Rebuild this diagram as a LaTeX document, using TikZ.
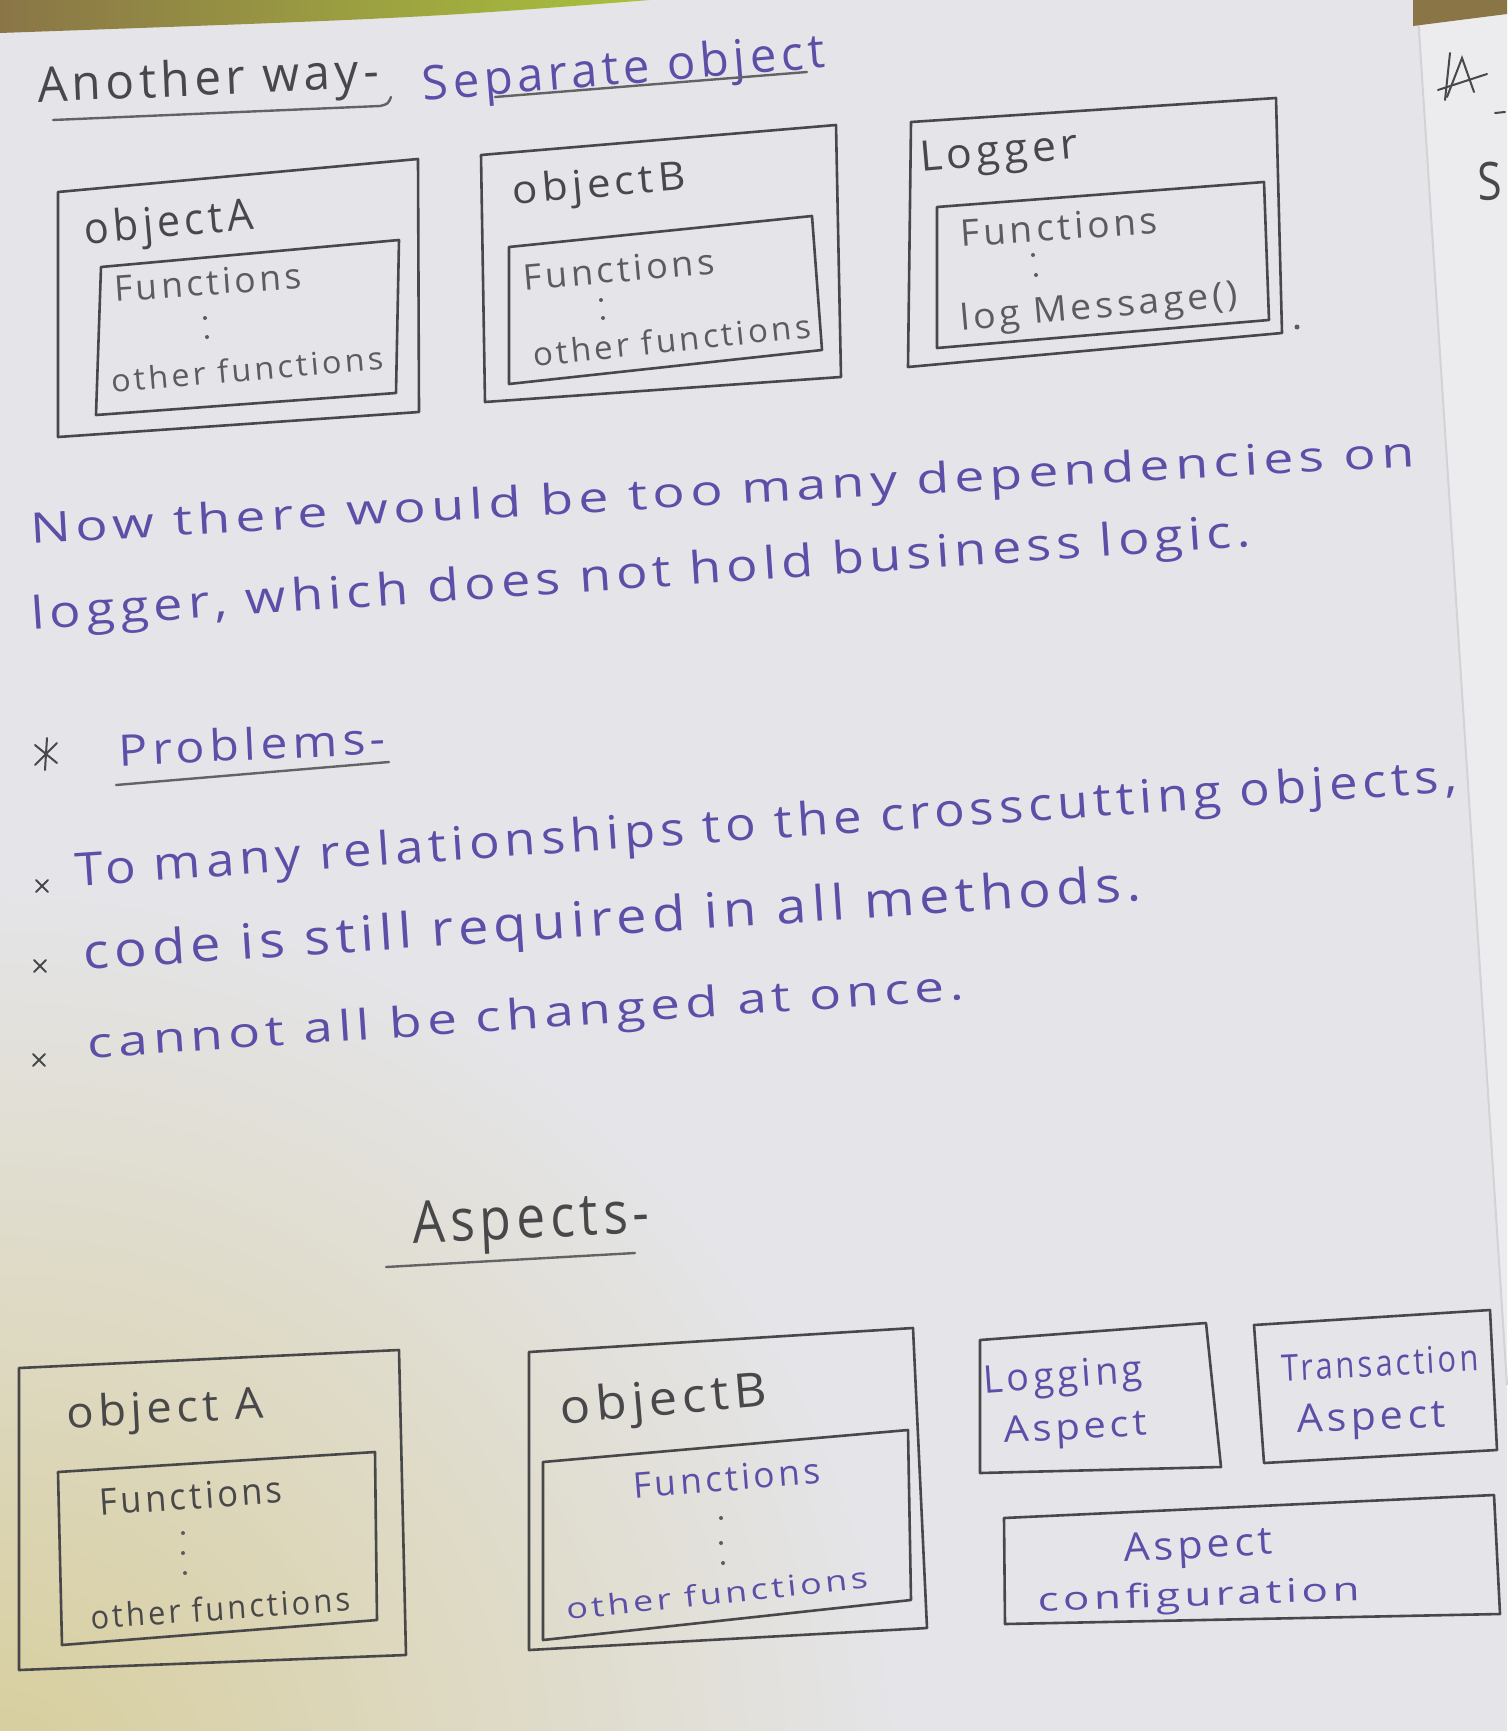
\documentclass[tikz,border=0pt]{standalone}
\usepackage{fontspec}
\usepackage{graphicx}
\newfontfamily\handfont[LetterSpace=10]{Open Sans}
\usetikzlibrary{fadings}

\definecolor{paper}{HTML}{E5E5E9}
\definecolor{paperright}{HTML}{ECECEE}
\definecolor{foldline}{HTML}{D3D3D7}
\definecolor{bandbrown}{HTML}{8A7547}
\definecolor{bandgreen}{HTML}{A9C23C}
\definecolor{pencil}{HTML}{48484A}
\definecolor{pencillight}{HTML}{5C5C60}
\definecolor{ink}{HTML}{5C4FA8}
\definecolor{shadowtint}{HTML}{D6CB92}

% soft radial fade used for the tinted corner
\tikzfading[name=cornerglow, inner color=transparent!0, outer color=transparent!100]

% handwritten line: fixed width and ascender height
\newcommand\hw[3]{\resizebox{#1pt}{#2pt}{\handfont\fontsize{40}{48}\selectfont #3}}

\tikzset{
  box/.style={draw=pencil, line width=2.6pt, line join=round, line cap=round},
  rule/.style={draw=pencil!85, line width=2.4pt, line cap=round, line join=round},
  tick/.style={draw=pencil, line width=2pt, line cap=round},
  lbl/.style={inner sep=0pt, anchor=base, text=pencil},
  lbllight/.style={lbl, text=pencillight},
  inklbl/.style={lbl, text=ink},
  speck/.style={fill=pencillight}
}

\begin{document}
\begin{tikzpicture}[x=1pt,y=-1pt]
\useasboundingbox (0,0) rectangle (1507,1731);

% sheet, facing page and table edge
\fill[paper] (0,0) rectangle (1507,1731);
\fill[paperright] (1417,0) -- (1507,0) -- (1507,1385) -- cycle;
\draw[foldline, line width=2pt] (1417,0) -- (1507,1385);
\begin{scope}
  \clip (0,0) rectangle (1507,1731);
  \fill[shadowtint, path fading=cornerglow, opacity=0.9] (0,1790) circle (900);
\end{scope}
\shade[left color=bandbrown, middle color=bandbrown!60!bandgreen, right color=bandgreen]
  (0,0) -- (650,0) .. controls (420,18) .. (0,33) -- cycle;
\fill[bandbrown] (1413,0) -- (1507,0) -- (1507,14) -- (1413,26) -- cycle;

% heading
\node[lbl, rotate=2.5] (another) at (209,95) {\hw{342}{37}{Another way-}};
\node[inklbl, rotate=4.7] (separate) at (625,84) {\hw{404}{36}{Separate object}};
\draw[rule] (53,120) -- (380,106) .. controls (388,104) .. (391,97);
\draw[rule] (495,97) -- (807,72);

% first row: object A, object B, logger
\draw[box] (58,192) -- (418,159) -- (419,412) -- (58,437) -- cycle;
\draw[box] (101,267) -- (399,240) -- (396,393) -- (96,415) -- cycle;
\node[lbl, rotate=5] (topA) at (170,237) {\hw{169}{33}{objectA}};
\node[lbllight, rotate=4] (topAf) at (209,295) {\hw{188}{26}{Functions}};
\fill[speck] (205,318) circle (2) (207,337) circle (2);
\node[lbllight, rotate=5] (topAo) at (248,381) {\hw{273}{24}{other functions}};

\draw[box] (481,155) -- (836,125) -- (841,377) -- (485,402) -- cycle;
\draw[box] (509,247) -- (812,216) -- (822,350) -- (509,384) -- cycle;
\node[lbl, rotate=5] (topB) at (600,197) {\hw{173}{30}{objectB}};
\node[lbllight, rotate=5] (topBf) at (620,282) {\hw{192}{26}{Functions}};
\fill[speck] (601,300) circle (2) (603,318) circle (2);
\node[lbllight, rotate=6] (topBo) at (673,352) {\hw{279}{25}{other functions}};

\draw[box] (911,122) -- (1276,98) -- (1282,333) -- (908,367) -- cycle;
\draw[box] (937,207) -- (1264,182) -- (1269,320) -- (937,348) -- cycle;
\node[lbl, rotate=5] (logger) at (1000,165) {\hw{158}{30}{Logger}};
\node[lbllight, rotate=4] (loggerf) at (1060,240) {\hw{197}{27}{Functions}};
\fill[speck] (1033,255) circle (2) (1036,275) circle (2);
\node[lbllight, rotate=5] (loggerm) at (1100,318) {\hw{279}{27}{log Message()}};
\fill[speck] (1297,327) circle (2.5);

% margin notes on the facing page
\draw[tick] (1450,53) -- (1445,100);
\draw[tick] (1447,97) -- (1462,58) -- (1474,92);
\draw[tick] (1438,90) -- (1487,74);
\draw[tick] (1495,113) -- (1505,112);
\node[lbl, rotate=2] (margS) at (1490,200) {\hw{24}{38}{S}};

% remark
\node[inklbl, rotate=3.2] (para1) at (723,505) {\hw{1386}{32}{Now there would be too many dependencies on}};
\node[inklbl, rotate=3.9] (para2) at (642,588) {\hw{1222}{34}{logger, which does not hold business logic.}};

% problems list
\draw[tick] (35,745) -- (57,763) (35,765) -- (57,743) (47,738) -- (45,770);
\node[inklbl, rotate=2.6] (problems) at (253,760) {\hw{267}{33}{Problems-}};
\draw[rule] (116,785) -- (389,762);

\draw[tick] (36,880) -- (48,892) (36,892) -- (48,880);
\node[inklbl, rotate=3.9] (prob1) at (767,839) {\hw{1384}{35}{To many relationships to the crosscutting objects,}};
\draw[tick] (34,960) -- (46,972) (34,972) -- (46,960);
\node[inklbl, rotate=3.75] (prob2) at (613,935) {\hw{1060}{37}{code is still required in all methods.}};
\draw[tick] (33,1054) -- (45,1066) (33,1066) -- (45,1054);
\node[inklbl, rotate=3.8] (prob3) at (527,1029) {\hw{878}{32}{cannot all be changed at once.}};

% aspects
\node[lbl, rotate=2.5] (aspects) at (532,1238) {\hw{237}{42}{Aspects-}};
\draw[rule] (386,1267) -- (635,1253);

\draw[box] (19,1368) -- (399,1350) -- (406,1655) -- (19,1670) -- cycle;
\draw[box] (58,1472) -- (375,1452) -- (377,1620) -- (62,1645) -- cycle;
\node[lbl, rotate=3] (botA) at (166,1423) {\hw{197}{33}{object A}};
\node[lbl, rotate=4] (botAf) at (192,1509) {\hw{183}{27}{Functions}};
\fill[speck] (183,1533) circle (2) (183,1553) circle (2) (185,1573) circle (2);
\node[lbl, rotate=4] (botAo) at (221,1620) {\hw{260}{25}{other functions}};

\draw[box] (529,1352) -- (913,1328) -- (927,1628) -- (529,1650) -- cycle;
\draw[box] (543,1462) -- (908,1430) -- (911,1600) -- (543,1640) -- cycle;
\node[lbl, rotate=5] (botB) at (665,1415) {\hw{207}{36}{objectB}};
\node[inklbl, rotate=4.5] (botBf) at (728,1491) {\hw{188}{26}{Functions}};
\fill[speck] (721,1518) circle (2) (721,1543) circle (2) (723,1563) circle (2);
\node[inklbl, rotate=6] (botBo) at (718,1604) {\hw{303}{22}{other functions}};

\draw[box] (980,1340) -- (1206,1323) -- (1221,1467) -- (980,1473) -- cycle;
\node[inklbl, rotate=4] (logging) at (1064,1388) {\hw{159}{28}{Logging}};
\node[inklbl, rotate=3] (loggingA) at (1076,1439) {\hw{144}{26}{Aspect}};

\draw[box] (1254,1325) -- (1490,1310) -- (1497,1450) -- (1264,1463) -- cycle;
\node[inklbl, rotate=3] (trans) at (1381,1376) {\hw{197}{27}{Transaction}};
\node[inklbl, rotate=2] (transA) at (1372,1430) {\hw{149}{28}{Aspect}};

\draw[box] (1004,1518) -- (1494,1495) -- (1500,1614) -- (1005,1624) -- cycle;
\node[inklbl, rotate=3] (configA) at (1199,1558) {\hw{149}{28}{Aspect}};
\node[inklbl, rotate=2] (config) at (1199,1606) {\hw{322}{25}{configuration}};
\end{tikzpicture}
\end{document}
